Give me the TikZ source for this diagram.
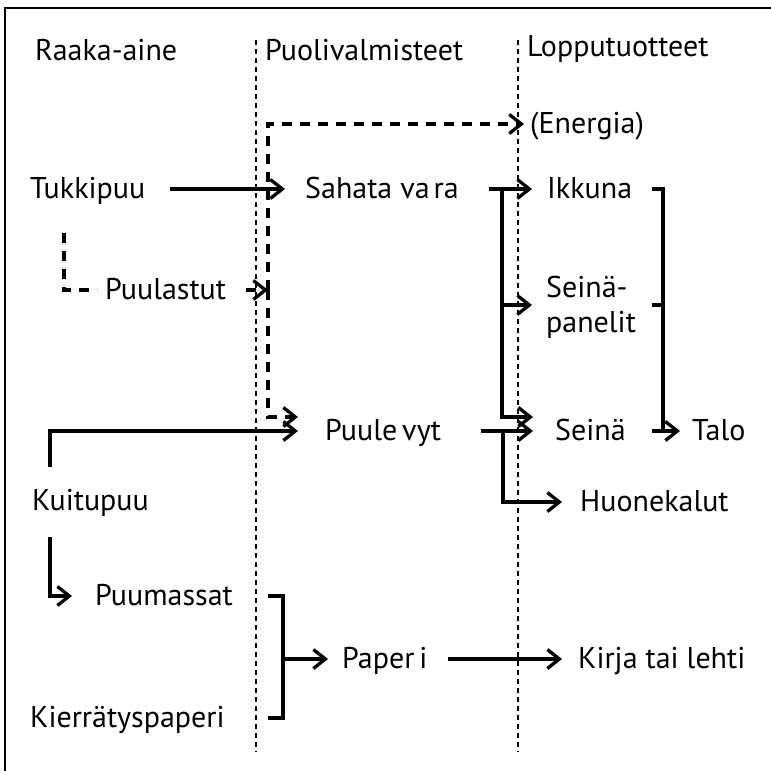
\documentclass[tikz,border=0pt]{standalone}
\usepackage{fontspec}
\setmainfont{PT Sans}
\usetikzlibrary{arrows.meta,positioning,calc}
\tikzset{
    every node/.style={font=\fontsize{30}{35}\selectfont,inner sep=0pt},
    lbl/.style={anchor=west,text height=22pt,text depth=4pt},
    twoline/.style={anchor=west,align=left},
    link/.style={draw,line width=3.3pt},
    flow/.style={link,-{Straight Barb[length=12pt,width=19pt]}},
    sidelink/.style={link,dash pattern=on 10pt off 8pt},
    side/.style={sidelink,-{Straight Barb[length=12pt,width=19pt]}},
    divider/.style={draw,line width=1.2pt,dash pattern=on 5pt off 4pt},
    frame/.style={draw,line width=1.8pt}
}
\begin{document}
\begin{tikzpicture}[x=1pt,y=-1pt]
\useasboundingbox (0,0) rectangle (771,771);
\draw[frame] (771,8) -- (5,8) -- (5,771);
\draw[divider] (256,40) -- (256,752);
\draw[divider] (518,40) -- (518,752);

\node[lbl] (raaka) at (35,51) {Raaka-aine};
\node[lbl] (puoli) at (265,51) {Puolivalmisteet};
\node[lbl] (loppu) at (527,47) {Lopputuotteet};
\node[lbl] (energia) at (530,124) {(Energia)};
\node[lbl] (tukki) at (30,189) {Tukkipuu};
\node[lbl] (sahata) at (305,189) {Sahata va\kern4pt ra};
\node[lbl] (ikkuna) at (547,189) {Ikkuna};
\node[lbl] (lastut) at (105,290) {Puulastut};
\node[twoline] (paneli) at (546,307) {Seinä-\\panelit};
\node[lbl] (levyt) at (325,431) {Puule\kern5pt vyt};
\node[lbl] (seina) at (555,431) {Seinä};
\node[lbl] (talo) at (692,431) {Talo};
\node[lbl] (kuitu) at (32,501) {Kuitupuu};
\node[lbl] (huone) at (580,502) {Huonekalut};
\node[lbl] (massat) at (95,596) {Puumassat};
\node[lbl] (paperi) at (342,659) {Paper\kern5pt i};
\node[lbl] (kirja) at (578,659) {Kirja tai lehti};
\node[lbl] (kierra) at (30,718) {Kierrätyspaperi};

\coordinate (busA) at (502,189);
\coordinate (busB) at (503,431);
\coordinate (busT) at (663,189);
\coordinate (busL) at (268,290);
\coordinate (busP) at (283,596);
\coordinate (busQ) at (283,718);

\draw[flow] ([xshift=25pt]tukki.east) -- ([xshift=-20pt]sahata.west);
\draw[flow] ([xshift=30pt]sahata.east) -- ([xshift=-15pt]ikkuna.west);
\draw[flow] (busA) |- ([xshift=-22pt,yshift=14pt]seina.west);
\draw[flow] ([yshift=2pt]busA |- paneli.west) -- ([xshift=-14pt,yshift=2pt]paneli.west);
\draw[flow] ([xshift=40pt]levyt.east) -- ([xshift=-22pt]seina.west);
\draw[flow] (busB) |- ([xshift=-18pt]huone.west);
\draw[link] ([xshift=20pt]ikkuna.east) -| (busT |- seina.west);
\draw[link] ([xshift=20pt,yshift=2pt]ikkuna.east |- paneli.west) -- ([yshift=2pt]busT |- paneli.west);
\draw[flow] ([xshift=26pt]seina.east) -- ([xshift=-12pt]talo.west);
\draw[flow] ([xshift=18pt,yshift=34pt]kuitu.west) |- ([xshift=-27pt]levyt.west);
\draw[flow] ([xshift=18pt,yshift=-36pt]kuitu.west) |- ([xshift=-23pt]massat.west);
\draw[link] ([xshift=-15pt]busP) -- (busP) -- (busQ) -- ([xshift=-15pt]busQ);
\draw[flow] (busP |- paperi.west) -- ([xshift=-14pt]paperi.west);
\draw[flow] ([xshift=20pt]paperi.east) -- ([xshift=-16pt]kirja.west);

\draw[sidelink] ([xshift=34pt,yshift=-44pt]tukki.west) |- ([xshift=-8pt]lastut.west);
\draw[side] ([xshift=20pt]lastut.east) -- (busL);
\draw[side] (busL) |- ([xshift=-6pt]energia.west);
\draw[side] (busL) |- ([xshift=-27pt,yshift=14pt]levyt.west);
\end{tikzpicture}
\end{document}
